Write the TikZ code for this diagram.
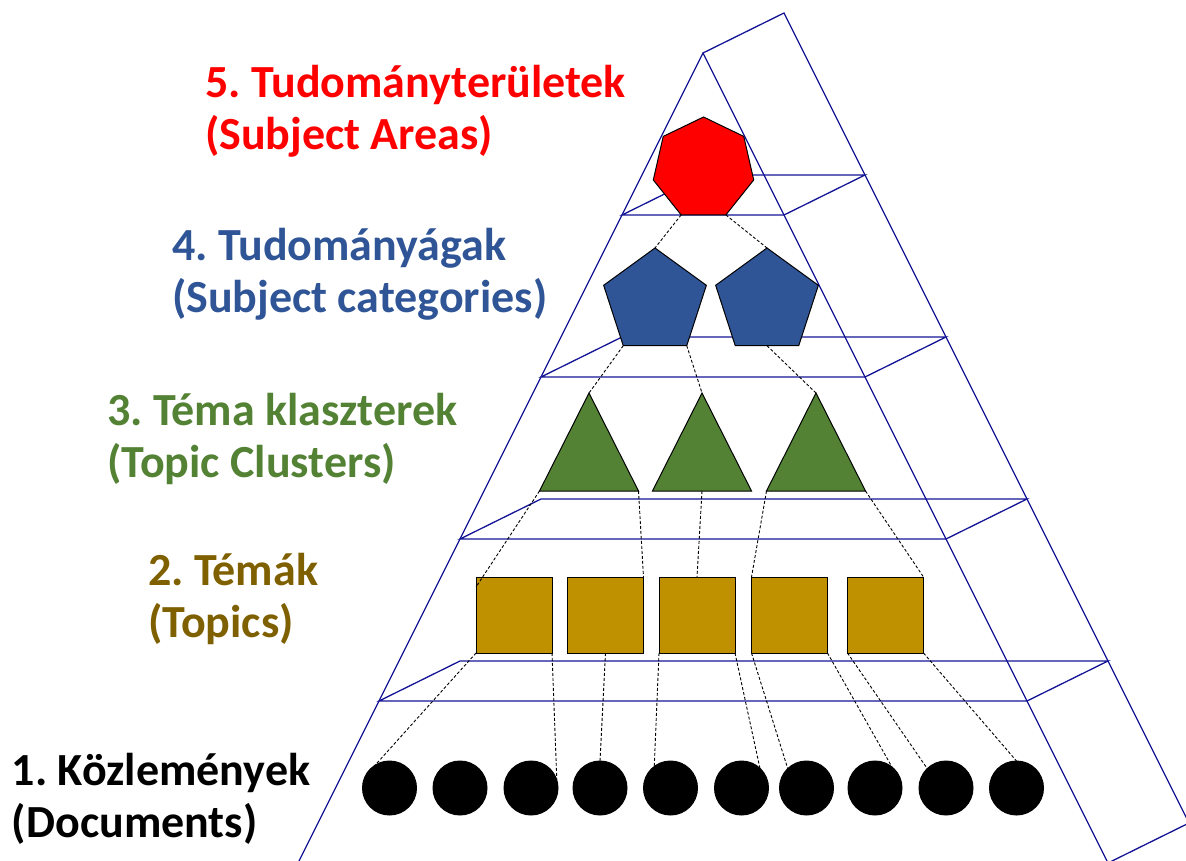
\documentclass[tikz,border=0pt]{standalone}
\usepackage{fontspec}
\setmainfont{Carlito}
\frenchspacing
\usetikzlibrary{shapes.geometric,calc}
\definecolor{pyr}{RGB}{20,20,150}
\definecolor{areared}{RGB}{255,0,0}
\definecolor{catblue}{RGB}{47,85,151}
\definecolor{clgreen}{RGB}{84,130,53}
\definecolor{topgold}{RGB}{191,144,0}
\definecolor{toptext}{RGB}{127,96,0}
\tikzset{
  pyrline/.style={draw=pyr, line width=1.3pt},
  poly/.style={draw=black, line width=1pt, inner sep=0pt, outer sep=0pt},
  hept/.style={poly, regular polygon, regular polygon sides=7, minimum size=103pt, fill=areared},
  pent/.style={poly, regular polygon, regular polygon sides=5, minimum size=108pt, fill=catblue},
  tri/.style={poly, isosceles triangle, isosceles triangle stretches, shape border rotate=90, minimum width=99pt, minimum height=98pt, fill=clgreen, anchor=apex},
  sq/.style={poly, rectangle, minimum size=76pt, fill=topgold},
  docdot/.style={poly, circle, minimum size=54pt, fill=black},
  link/.style={draw=black, line width=0.9pt, dash pattern=on 3pt off 2pt},
  lab/.style={inner sep=0pt, outer sep=0pt, anchor=base west, font=\fontsize{46}{52}\selectfont\bfseries},
}
\begin{document}
\begin{tikzpicture}[x=1pt,y=-1pt]
\clip (0,0) rectangle (1186,861);
% pyramid frame
\coordinate (A) at (703,53);
\coordinate (B) at (784,13);
\coordinate (FL) at (253,953);
\coordinate (FR) at (1153,953);
\coordinate (BR) at (1234,913);
\draw[pyrline] (FL) -- (A) -- (FR);
\draw[pyrline] (A) -- (B) -- (BR);
\foreach \k in {1,...,4}{
  \pgfmathsetmacro\yy{53+162*\k}
  \pgfmathsetmacro\xl{703-81*\k}
  \pgfmathsetmacro\xr{703+81*\k}
  \draw[pyrline] (\xl,\yy) -- (\xr,\yy) -- (\xr+81,\yy-40) -- (\xl+81,\yy-40) -- cycle;
}
\draw[pyrline] (1108,863) -- (1189,823);

% labels
\node[lab, text=areared] (l5) at (205,98) {\begin{tabular}[t]{@{}l@{}}5. Tudományterületek\\(Subject Areas)\end{tabular}};
\node[lab, text=catblue] (l4) at (172,260) {\begin{tabular}[t]{@{}l@{}}4. Tudományágak\\(Subject categories)\end{tabular}};
\node[lab, text=clgreen] (l3) at (107,425) {\begin{tabular}[t]{@{}l@{}}3. Téma klaszterek\\(Topic Clusters)\end{tabular}};
\node[lab, text=toptext] (l2) at (148,585) {\begin{tabular}[t]{@{}l@{}}2. Témák\\(Topics)\end{tabular}};
\node[lab, text=black] (l1) at (12,785) {\begin{tabular}[t]{@{}l@{}}1. Közlemények\\(Documents)\end{tabular}};

% shapes
\node[hept] (h) at (703.5,168.5) {};
\node[pent] (p1) at (655,302) {};
\node[pent] (p2) at (767,302) {};
\node[tri] (t1) at (589,393) {};
\node[tri] (t2) at (702,393) {};
\node[tri] (t3) at (816,393) {};
\node[sq] (s1) at (514,615) {};
\node[sq] (s2) at (605.5,615) {};
\node[sq] (s3) at (697,615) {};
\node[sq] (s4) at (789.5,615) {};
\node[sq] (s5) at (885.5,615) {};
\node[docdot] (c1) at (389.5,788) {};
\node[docdot] (c2) at (460,788) {};
\node[docdot] (c3) at (531,788) {};
\node[docdot] (c4) at (600,788) {};
\node[docdot] (c5) at (670.5,788) {};
\node[docdot] (c6) at (741.5,788) {};
\node[docdot] (c7) at (806.5,788) {};
\node[docdot] (c8) at (875,788) {};
\node[docdot] (c9) at (946,788) {};
\node[docdot] (c10) at (1016.5,788) {};

% connectors
\draw[link] (h.corner 4) -- (p1.corner 1);
\draw[link] (h.corner 5) -- (p2.corner 1);
\draw[link] (p1.corner 3) -- (t1.apex);
\draw[link] (p1.corner 4) -- (t2.apex);
\draw[link] ($(p2.corner 3)!0.5!(p2.corner 4)$) -- (t3.apex);
\draw[link] (t1.left corner) -- ($(s1.north west)+(0,10)$);
\draw[link] (t1.right corner) -- (s2.north east);
\draw[link] ($(t2.left corner)!0.5!(t2.right corner)$) -- (s3.north);
\draw[link] (t3.left corner) -- (s4.north west);
\draw[link] (t3.right corner) -- (s5.north east);
\draw[link] (s1.south west) -- (c1.122);
\draw[link] (s1.south east) -- (c3.17);
\draw[link] (s2.south) -- (c4.90);
\draw[link] (s3.south west) -- (c5.127);
\draw[link] (s3.south east) -- (c6.47);
\draw[link] (s4.south west) -- (c7.134);
\draw[link] (s4.south east) -- (c8.51);
\draw[link] (s5.south west) -- (c9.134);
\draw[link] (s5.south east) -- (c10.90);
\end{tikzpicture}
\end{document}
